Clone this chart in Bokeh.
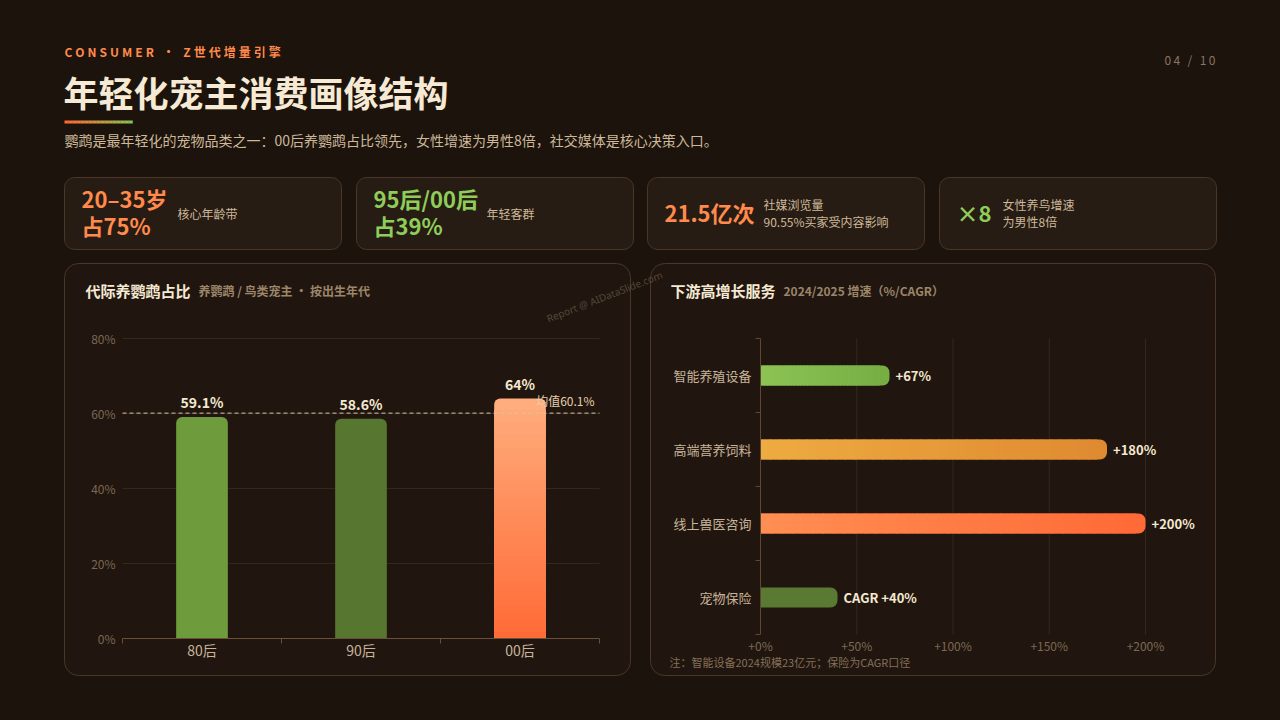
from bokeh.plotting import figure
from bokeh.models import (Range1d, LinearAxis, FixedTicker, PrintfTickFormatter,
                          CustomJSTickFormatter, GlobalInlineStyleSheet)
from bokeh.core.properties import value
from bokeh.embed import file_html
from bokeh.resources import INLINE

# ------------------------------------------------------------------ data
kicker = "CONSUMER · Z世代增量引擎"
page_no = "04 / 10"
title = "年轻化宠主消费画像结构"
subtitle = "鹦鹉是最年轻化的宠物品类之一：00后养鹦鹉占比领先，女性增速为男性8倍，社交媒体是核心决策入口。"

kpi_values = ["20–35岁\n占75%", "95后/00后\n占39%", "21.5亿次", "×8"]
kpi_notes = ["核心年龄带", "年轻客群", "社媒浏览量\n90.55%买家受内容影响", "女性养鸟增速\n为男性8倍"]
kpi_colors = ["#ff8a4c", "#8fcd5a", "#ff8a4c", "#8fcd5a"]

gen_title = "代际养鹦鹉占比"
gen_sub = "养鹦鹉 / 鸟类宠主 · 按出生年代"
gen_labels = ["80后", "90后", "00后"]
gen_values = [59.1, 58.6, 64.0]
gen_mean = 60.1
gen_mean_label = "均值60.1%"
gen_ticks = [0, 20, 40, 60, 80]
gen_top_colors = ["#6e9c3c", "#57762f", "#ffad7d"]
gen_bottom_colors = ["#6e9c3c", "#57762f", "#ff6a36"]

svc_title = "下游高增长服务"
svc_sub = "2024/2025 增速（%/CAGR）"
svc_labels = ["智能养殖设备", "高端营养饲料", "线上兽医咨询", "宠物保险"]
svc_values = [67, 180, 200, 40]
svc_prefix = ["", "", "", "CAGR "]
svc_ticks = [0, 50, 100, 150, 200]
svc_start_colors = ["#8dc355", "#eeab41", "#ff8f52", "#5a7a33"]
svc_end_colors = ["#76ae44", "#df8a31", "#ff6a36", "#5a7a33"]
svc_note = "注：智能设备2024规模23亿元；保险为CAGR口径"
watermark = "Report @ AIDataSlide.com"

# ------------------------------------------------------------------ style
BG = "#1c130c"
CARD_FILL = "#271c13"
PANEL_FILL = "#20160f"
BORDER = "#4a3727"
CREAM = "#f5e9d3"
BEIGE = "#cdb99a"
MUTED = "#7d6852"
AXIS = "#6b5038"
GRID = "#35271b"
FONT = "Noto Sans CJK SC"
F = value(FONT)

W, H = 1264, 704
OX, OY = 0, 0          # canvas origin in page pixels


def lin_range(pa, va, pb, vb, p0, p1):
    k = (vb - va) / (pb - pa)
    return Range1d(start=va + (p0 - pa) * k, end=va + (p1 - pa) * k)


def mix(c1, c2, t):
    a = [int(c1[i:i + 2], 16) for i in (1, 3, 5)]
    b = [int(c2[i:i + 2], 16) for i in (1, 3, 5)]
    return "#%02x%02x%02x" % tuple(round(a[k] + (b[k] - a[k]) * t) for k in range(3))


def spaced(s, sp="\u2005"):
    return sp.join(s)


p = figure(width=W, height=H, output_backend="svg", toolbar_location=None,
           x_range=Range1d(OX, OX + W), y_range=Range1d(OY + H, OY),
           x_axis_type=None, y_axis_type=None, min_border=0,
           outline_line_color=None, background_fill_color=BG, border_fill_color=BG)
p.stylesheets = [GlobalInlineStyleSheet(css=f"html, body {{ background: {BG}; }}")]

# chart coordinate systems (pixel anchors of each plot area)
p.extra_x_ranges = {"lx": lin_range(122, 0, 599, len(gen_labels), OX, OX + W),
                    "rx": lin_range(760, 0, 1145, 200, OX, OX + W)}
p.extra_y_ranges = {"ly": lin_range(638, 0, 338, 80, OY + H, OY),
                    "ry": lin_range(634, 0, 338, len(svc_labels), OY + H, OY)}
L = dict(x_range_name="lx", y_range_name="ly")
R = dict(x_range_name="rx", y_range_name="ry")


def label(x, y, s, size, color, bold=False, align="left", baseline="middle", **kw):
    return p.text(x=[x], y=[y], text=[s], text_font=F, text_font_size=f"{size}px",
                  text_color=color, text_font_style="bold" if bold else "normal",
                  text_align=align, text_baseline=baseline, **kw)


# ------------------------------------------------------------------ header
label(64, 51, spaced(kicker), 12, "#ff8a4c", bold=True)
label(1215, 59, spaced(page_no, "\u2009"), 12, "#8a7560", align="right")
label(63, 91, title, 35, "#f6ead5", bold=True)
ul_n = 17
ul_l = [64 + 68 * k / ul_n for k in range(ul_n)]
p.quad(left=ul_l, right=[v + 68 / ul_n + 0.3 for v in ul_l], top=120, bottom=123,
       fill_color=[mix("#ff6a35", "#8bc152", k / (ul_n - 1)) for k in range(ul_n)],
       line_color=None)
label(64, 139, subtitle, 14, BEIGE)

# ------------------------------------------------------------------ KPI cards
card_left = [64, 356, 647, 939]
card_w = 277
note_dx = [113, 130, 116, 63]
p.quad(left=card_left, right=[c + card_w for c in card_left], top=177, bottom=249,
       fill_color=CARD_FILL, line_color=BORDER, line_width=1, border_radius=10)
p.text(x=[c + 17 for c in card_left], y=[211] * 4, text=kpi_values, text_font=F,
       text_font_size="22px", text_font_style="bold", text_color=kpi_colors,
       text_baseline="middle", text_line_height=0.85)
p.text(x=[c + d for c, d in zip(card_left, note_dx)], y=[212.5] * 4, text=kpi_notes,
       text_font=F, text_font_size="12px", text_color=BEIGE,
       text_baseline="middle", text_line_height=0.97)

# ------------------------------------------------------------------ panels
p.quad(left=[64, 650], right=[630, 1215], top=263, bottom=675,
       fill_color=PANEL_FILL, line_color=BORDER, line_width=1, border_radius=14)
label(85, 290, gen_title, 15, CREAM, bold=True)
label(198, 290, gen_sub, 12, "#9c8569", bold=True)
label(670, 290, svc_title, 15, CREAM, bold=True)
label(783, 290, svc_sub, 12, "#9c8569", bold=True)
p.text(x=[604], y=[296], text=[watermark], text_font=value("Noto Sans"),
       text_font_size="10px", text_color="#8c7a66", text_alpha=0.5,
       text_align="center", text_baseline="middle", angle=0.37)
label(669, 661, svc_note, 11, "#857058")

# ------------------------------------------------------------------ left chart
ng = len(gen_labels)
gx = [i + 0.5 for i in range(ng)]
p.segment(x0=[0] * 4, x1=[ng] * 4, y0=gen_ticks[1:], y1=gen_ticks[1:],
          line_color=GRID, line_width=1, **L)
BW = 0.325
p.vbar(x=gx, bottom=0, top=gen_values, width=BW, fill_color=gen_top_colors,
       line_color=None, border_radius=(6, 6, 0, 0), **L)
NS = 36
for i, v in enumerate(gen_values):
    if gen_top_colors[i] == gen_bottom_colors[i]:
        continue
    lim = v - 3
    b = [lim * k / NS for k in range(NS)]
    t = [min(lim * (k + 1) / NS + 0.3, lim) for k in range(NS)]
    c = [mix(gen_bottom_colors[i], gen_top_colors[i], (lim * (k + 0.5) / NS) / v) for k in range(NS)]
    p.vbar(x=[gx[i]] * NS, bottom=b, top=t, width=BW, fill_color=c, line_color=None, **L)

p.line(x=[0, ng], y=[gen_mean, gen_mean], line_color="#d9c6a3", line_width=1,
       line_dash="4 3", **L)
p.text(x=[ng], y=[gen_mean], text=[gen_mean_label], text_font=F, text_font_size="12px",
       text_color="#e3cfab", text_align="right", text_baseline="alphabetic",
       x_offset=-5, y_offset=-13, **L)
p.text(x=gx, y=gen_values, text=[f"{v:g}%" for v in gen_values], text_font=F,
       text_font_size="14px", text_font_style="bold", text_color="#f5e8d0",
       text_align="center", text_baseline="alphabetic", y_offset=-15, **L)

ly_axis = LinearAxis(fixed_location=0, bounds=(0, gen_ticks[-1]),
                     ticker=FixedTicker(ticks=gen_ticks),
                     formatter=PrintfTickFormatter(format="%d%%"),
                     axis_line_color=None, major_tick_line_color=None,
                     minor_tick_line_color=None, major_tick_out=0, major_tick_in=0,
                     minor_tick_out=0, minor_tick_in=0, major_label_standoff=7,
                     major_label_text_color=MUTED, major_label_text_font=FONT,
                     major_label_text_font_size="12px", **L)
p.add_layout(ly_axis, "left")

lx_axis = LinearAxis(fixed_location=0, bounds=(0, ng),
                     ticker=FixedTicker(ticks=gx, minor_ticks=list(range(ng + 1))),
                     formatter=CustomJSTickFormatter(args=dict(labels=gen_labels),
                                                     code="return labels[Math.round(tick - 0.5)];"),
                     axis_line_color=AXIS, axis_line_width=1,
                     major_tick_line_color=None, major_tick_out=0, major_tick_in=0,
                     minor_tick_line_color=AXIS, minor_tick_out=5, minor_tick_in=0,
                     major_label_standoff=-4, major_label_text_color="#c8b49a",
                     major_label_text_font=FONT, major_label_text_font_size="14px", **L)
p.add_layout(lx_axis, "below")

# ------------------------------------------------------------------ right chart
ns = len(svc_labels)
sy = [ns - i - 0.5 for i in range(ns)]
p.segment(x0=svc_ticks[1:], x1=svc_ticks[1:], y0=[0] * 4, y1=[ns] * 4,
          line_color=GRID, line_width=1, **R)
BH = 0.27
p.hbar(y=sy, left=0, right=svc_values, height=BH, fill_color=svc_end_colors,
       line_color=None, border_radius=(0, 7, 7, 0), **R)
for i, v in enumerate(svc_values):
    if svc_start_colors[i] == svc_end_colors[i]:
        continue
    lim = v - 5
    lft = [lim * k / NS for k in range(NS)]
    rgt = [min(lim * (k + 1) / NS + 0.6, lim) for k in range(NS)]
    c = [mix(svc_start_colors[i], svc_end_colors[i], (lim * (k + 0.5) / NS) / v) for k in range(NS)]
    p.hbar(y=[sy[i]] * NS, left=lft, right=rgt, height=BH, fill_color=c, line_color=None, **R)

p.text(x=svc_values, y=sy, text=[pre + f"+{v}%" for pre, v in zip(svc_prefix, svc_values)],
       text_font=F, text_font_size="13px", text_font_style="bold", text_color="#f5e8d0",
       text_align="left", text_baseline="middle", x_offset=6, **R)

rx_axis = LinearAxis(fixed_location=0, ticker=FixedTicker(ticks=svc_ticks),
                     formatter=PrintfTickFormatter(format="+%d%%"),
                     axis_line_color=None, major_tick_line_color=None,
                     minor_tick_line_color=None, major_tick_out=0, major_tick_in=0,
                     minor_tick_out=0, minor_tick_in=0, major_label_standoff=2,
                     major_label_text_color=MUTED, major_label_text_font=FONT,
                     major_label_text_font_size="12px", **R)
p.add_layout(rx_axis, "below")

ry_axis = LinearAxis(fixed_location=0, bounds=(0, ns),
                     ticker=FixedTicker(ticks=sorted(sy), minor_ticks=list(range(ns + 1))),
                     formatter=CustomJSTickFormatter(args=dict(labels=svc_labels[::-1]),
                                                     code="return labels[Math.round(tick - 0.5)];"),
                     axis_line_color="#5e4631", axis_line_width=1,
                     major_tick_line_color=None, major_tick_out=0, major_tick_in=0,
                     minor_tick_line_color="#5e4631", minor_tick_out=5, minor_tick_in=0,
                     major_label_standoff=4, major_label_text_color="#c8b49a",
                     major_label_text_font=FONT, major_label_text_font_size="13px", **R)
p.add_layout(ry_axis, "left")

open("out.html", "w", encoding="utf-8").write(file_html(p, INLINE))
